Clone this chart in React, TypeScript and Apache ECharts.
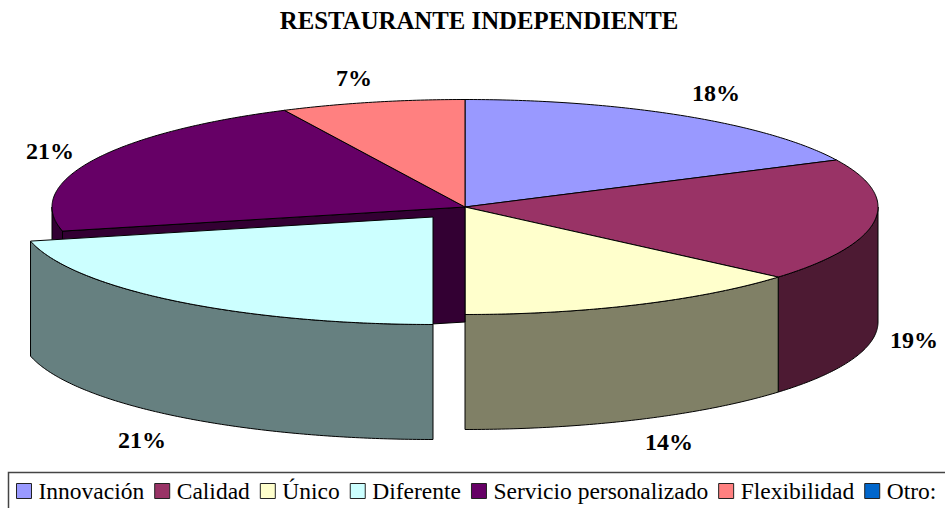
import React, { useEffect, useRef } from "react";
import * as echarts from "echarts";

const categories = ["Innovación", "Calidad", "Único", "Diferente", "Servicio personalizado", "Flexibilidad", "Otro:"];
const shares = [17.8, 18.5, 13.7, 21.4, 21.4, 7.2, 0];
const exploded = [false, false, false, true, false, false, false];
const titleText = "RESTAURANTE INDEPENDIENTE";

const topColors = ["#9999FF", "#993366", "#FFFFCC", "#CCFFFF", "#660066", "#FF8080", "#0066CC"];
const wallColors = ["#4D4D80", "#4D1A33", "#808066", "#668080", "#330033", "#804040", "#003366"];
const labelAnchors: ([number, number] | null)[] = [
  [716, 93], [914, 340], [669, 442], [142, 440], [50, 151], [354, 78], null,
];

const CX = 465, CY = 207, RX = 413, RY = 107.5, DEPTH = 115;
const EXPLODE_X = -32, EXPLODE_Y = 10;
const FONT = '"Liberation Serif", "Times New Roman", serif';
const TAU = Math.PI * 2;
const total = shares.reduce((a, b) => a + b, 0);

function rim(t: number, ox: number, oy: number, dz: number): number[] {
  return [CX + ox + RX * Math.sin(t), CY + oy - RY * Math.cos(t) + dz];
}
function arc(t0: number, t1: number, ox: number, oy: number, dz: number): number[][] {
  const n = Math.max(2, Math.ceil(Math.abs(t1 - t0) / 0.01));
  const out: number[][] = [];
  for (let i = 0; i <= n; i++) out.push(rim(t0 + ((t1 - t0) * i) / n, ox, oy, dz));
  return out;
}
const outline = { stroke: "#000", lineWidth: 1, lineJoin: "round" as const };

function renderSlice(params: any, api: any) {
  const i = params.seriesIndex as number;
  const value = api.value(0) as number;
  if (!value) return { type: "group", children: [] };
  const before = shares.slice(0, i).reduce((a, b) => a + b, 0);
  const t0 = (before / total) * TAU;
  const t1 = ((before + value) / total) * TAU;
  const ox = exploded[i] ? EXPLODE_X : 0;
  const oy = exploded[i] ? EXPLODE_Y : 0;
  const children: any[] = [];
  const wallStyle = { fill: wallColors[i], ...outline };
  const poly = (points: number[][], style: any) => ({ type: "polygon", shape: { points }, style });

  // outer wall: only the front half of the rim faces the viewer
  const a = Math.max(t0, Math.PI / 2);
  const b = Math.min(t1, (Math.PI * 3) / 2);
  if (b > a) {
    children.push(poly([...arc(a, b, ox, oy, 0), ...arc(b, a, ox, oy, DEPTH)], wallStyle));
  }
  // cut faces, seen only next to an exploded slice
  const c = [CX + ox, CY + oy];
  const face = (t: number) => {
    const p = rim(t, ox, oy, 0);
    return poly([c, p, [p[0], p[1] + DEPTH], [c[0], c[1] + DEPTH]], wallStyle);
  };
  const prev = exploded[(i + shares.length - 1) % shares.length];
  const next = exploded[(i + 1) % shares.length];
  if ((prev || exploded[i]) && Math.sin(t0) < -1e-6) children.push(face(t0));
  if ((next || exploded[i]) && Math.sin(t1) > 1e-6) children.push(face(t1));
  // top face
  children.push(poly([c, ...arc(t0, t1, ox, oy, 0)], { fill: topColors[i], ...outline }));
  // value label
  const anchor = labelAnchors[i];
  if (anchor) {
    children.push({
      type: "text",
      x: anchor[0],
      y: anchor[1],
      style: {
        text: Math.round(value) + "%",
        fill: "#000",
        font: `bold 24px ${FONT}`,
        align: "center",
        verticalAlign: "middle",
      },
    });
  }
  return { type: "group", children };
}

export default function App() {
  const ref = useRef<HTMLDivElement>(null);
  useEffect(() => {
    const chart = echarts.init(ref.current!, undefined, { renderer: "svg" });
    chart.setOption({
      animation: false,
      backgroundColor: "#fff",
      title: {
        text: titleText,
        left: 474,
        top: 3,
        textAlign: "center",
        textStyle: { fontFamily: FONT, fontWeight: "bold", fontSize: 24.8, color: "#000" },
      },
      graphic: [
        {
          type: "rect",
          z: 0,
          shape: { x: 8.5, y: 472.5, width: 1000, height: 100 },
          style: { fill: "#fff", stroke: "#444", lineWidth: 1.5 },
        },
      ],
      legend: {
        left: 16,
        top: 479,
        width: 1400,
        padding: 0,
        icon: "rect",
        itemWidth: 15,
        itemHeight: 15,
        itemGap: 10,
        data: categories,
        selectedMode: false,
        itemStyle: { borderColor: "#222", borderWidth: 1 },
        textStyle: { fontFamily: FONT, fontSize: 23.5, color: "#000", padding: [0, 0, 0, 2] },
      },
      series: categories.map((name, i) => ({
        type: "custom",
        name,
        coordinateSystem: "none",
        silent: true,
        z: exploded[i] ? 3 : 2,
        itemStyle: { color: topColors[i] },
        renderItem: renderSlice,
        data: [shares[i]],
      })),
    });
    return () => chart.dispose();
  }, []);
  return (
    <div
      ref={ref}
      style={{ position: "fixed", left: 0, top: 0, width: 945, height: 508, overflow: "hidden" }}
    />
  );
}
